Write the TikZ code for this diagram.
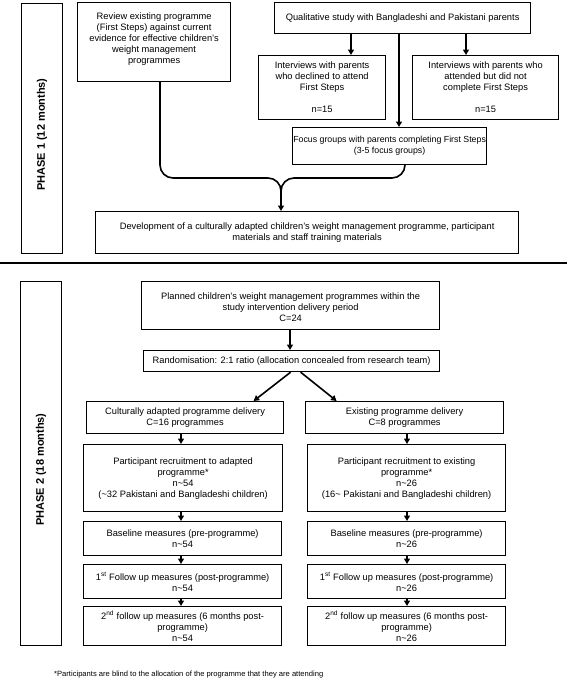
\documentclass[tikz,border=0pt]{standalone}
\usepackage{fontspec}
\setmainfont{Liberation Sans}
\usetikzlibrary{arrows.meta}
\begin{document}
\begin{tikzpicture}[x=1pt,y=-1pt,
  box/.style={draw, line width=1.2pt, inner sep=0pt, anchor=north west, align=center, font=\fontsize{9.3}{11}\selectfont},
  phasetxt/.style={rotate=90, inner sep=0pt, font=\fontsize{11}{13}\selectfont\bfseries},
  arr/.style={-{Triangle[width=6pt,length=5.5pt]}, line width=1.6pt},
  brace/.style={line width=1.6pt},
  sep/.style={line width=1.8pt},
  note/.style={anchor=west, inner sep=0pt, font=\fontsize{7.6}{9}\selectfont}]
\useasboundingbox (0,0) rectangle (567,680);
% ---------------- Phase 1 ----------------
\node[box, minimum width=41pt, minimum height=250pt] (p1) at (21,3) {};
\node[phasetxt] (p1t) at ([yshift=-6pt]p1.center) {PHASE 1 (12 months)};
\node[box, minimum width=153pt, minimum height=79pt] (review) at (77,2)
  {Review existing programme\\(First Steps) against current\\evidence for effective children's\\weight management\\programmes\\[-3pt]};
\node[box, minimum width=256pt, minimum height=31pt] (qual) at (274,2)
  {Qualitative study with Bangladeshi and Pakistani parents};
\node[box, minimum width=127pt, minimum height=64pt] (decl) at (258,55)
  {Interviews with parents\\who declined to attend\\First Steps\\[11pt]n=15};
\node[box, minimum width=146pt, minimum height=64pt] (att) at (412,55)
  {Interviews with parents who\\attended but did not\\complete First Steps\\[11pt]n=15};
\node[box, minimum width=194pt, minimum height=37pt, font=\fontsize{8.8}{11}\selectfont] (focus) at (292,127)
  {Focus groups with parents completing First Steps\\(3-5 focus groups)};
\node[box, minimum width=423pt, minimum height=42pt] (dev) at (95,211)
  {Development of a culturally adapted children's weight management programme, participant\\materials and staff training materials};
\coordinate (a1) at (351,0);
\coordinate (a2) at (399,0);
\coordinate (a3) at (466,0);
\coordinate (bl) at (160,0);
\coordinate (bf) at (405,0);
\coordinate (bc) at (281,191);
\draw[arr] (qual.south -| a1) -- (decl.north -| a1);
\draw[arr] (qual.south -| a2) -- (focus.north -| a2);
\draw[arr] (qual.south -| a3) -- (att.north -| a3);
\draw[brace] (review.south -| bl) -- (160,165) to[out=-90,in=180] (173,178) -- (268,178) to[out=0,in=90] (bc);
\draw[brace] (focus.south -| bf) -- (405,165) to[out=-90,in=0] (392,178) -- (294,178) to[out=180,in=90] (bc);
\draw[arr] (bc) -- (dev.north -| bc);
% separator
\coordinate (s1) at (0,263);
\coordinate (s2) at (567,263);
\draw[sep] (s1) -- (s2);
% ---------------- Phase 2 ----------------
\node[box, minimum width=41pt, minimum height=364pt] (p2) at (20,281) {};
\node[phasetxt] (p2t) at ([yshift=-6pt]p2.center) {PHASE 2 (18 months)};
\node[box, minimum width=298pt, minimum height=48pt] (plan) at (141,281)
  {\\[-1pt]Planned children's weight management programmes within the\\study intervention delivery period\\C=24};
\node[box, minimum width=296pt, minimum height=21pt] (rand) at (143,350)
  {Randomisation: 2:1 ratio (allocation concealed from research team)};
\node[box, minimum width=197pt, minimum height=32pt] (cult) at (86,401)
  {Culturally adapted programme delivery\\C=16 programmes};
\node[box, minimum width=198pt, minimum height=32pt] (exist) at (305,401)
  {Existing programme delivery\\C=8 programmes};
\node[box, minimum width=199pt, minimum height=67pt] (recA) at (83,444)
  {Participant recruitment to adapted\\programme*\\n\textasciitilde 54\\(\textasciitilde 32 Pakistani and Bangladeshi children)};
\node[box, minimum width=198pt, minimum height=67pt] (recB) at (307,444)
  {Participant recruitment to existing\\programme*\\n\textasciitilde 26\\(16\textasciitilde{} Pakistani and Bangladeshi children)};
\node[box, minimum width=198pt, minimum height=34pt] (baseA) at (83,521)
  {Baseline measures (pre-programme)\\n\textasciitilde 54};
\node[box, minimum width=198pt, minimum height=34pt] (baseB) at (307,521)
  {Baseline measures (pre-programme)\\n\textasciitilde 26};
\node[box, minimum width=198pt, minimum height=34pt] (fuA) at (83,564)
  {1\textsuperscript{st} Follow up measures (post-programme)\\n\textasciitilde 54};
\node[box, minimum width=198pt, minimum height=34pt] (fuB) at (307,564)
  {1\textsuperscript{st} Follow up measures (post-programme)\\n\textasciitilde 26};
\node[box, minimum width=198pt, minimum height=39pt] (fu2A) at (83,606)
  {2\textsuperscript{nd} follow up measures (6 months post-\\programme)\\n\textasciitilde 54};
\node[box, minimum width=198pt, minimum height=39pt] (fu2B) at (307,606)
  {2\textsuperscript{nd} follow up measures (6 months post-\\programme)\\n\textasciitilde 26};
\node[note] (fn) at (54,675) {*Participants are blind to the allocation of the programme that they are attending};
\coordinate (c0) at (290,0);
\coordinate (cL) at (181,0);
\coordinate (cR) at (407,0);
\draw[arr] (plan.south -| c0) -- (rand.north -| c0);
\draw[arr] ([xshift=-1pt]rand.south) -- ([xshift=68.5pt]cult.north);
\draw[arr] ([xshift=9pt]rand.south) -- ([xshift=-68pt]exist.north);
\draw[arr] (cult.south -| cL) -- (recA.north -| cL);
\draw[arr] (recA.south -| cL) -- (baseA.north -| cL);
\draw[arr] (baseA.south -| cL) -- (fuA.north -| cL);
\draw[arr] (fuA.south -| cL) -- (fu2A.north -| cL);
\draw[arr] (exist.south -| cR) -- (recB.north -| cR);
\draw[arr] (recB.south -| cR) -- (baseB.north -| cR);
\draw[arr] (baseB.south -| cR) -- (fuB.north -| cR);
\draw[arr] (fuB.south -| cR) -- (fu2B.north -| cR);
\end{tikzpicture}
\end{document}
